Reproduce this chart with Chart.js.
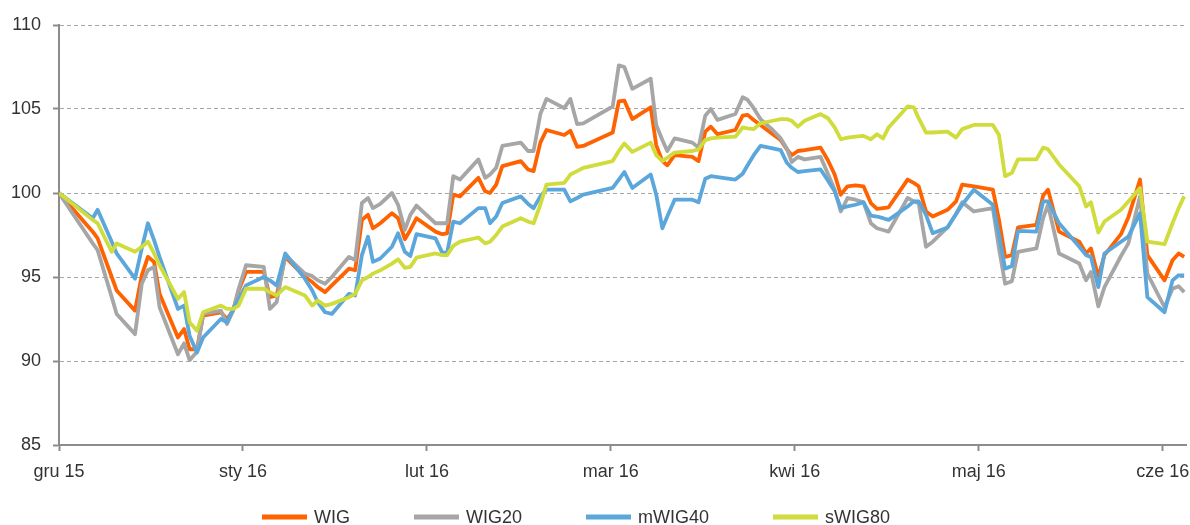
<!DOCTYPE html>
<html lang="pl">
<head>
<meta charset="UTF-8">
<title>WIG, WIG20, mWIG40, sWIG80</title>
<script src="https://cdn.jsdelivr.net/npm/chart.js"></script>
<style>
  html, body { margin: 0; padding: 0; background: #fff; }
  #wrap { width: 1190px; height: 525px; position: relative; }
</style>
</head>
<body>
<div id="wrap"><canvas id="indexChart"></canvas></div>
<script>
// pozycja na osi X (30 jednostek = 1 miesiac)
const xPos = [0, 5.5, 6.3, 8.6, 9.4, 12.4, 13.5, 14.5, 15.5, 16.4, 19.4, 20.4, 21.3, 22.5, 23.5, 26.4, 27.4, 28.4, 29.3, 30.5,
  33.4, 34.4, 35.5, 36.9, 40.1, 41.3, 42.2, 43.4, 44.5, 47.3, 48.3, 49.4, 50.4, 51.2, 52.4, 54.3, 55.3, 56.4, 57.3, 58.3,
  61.4, 62.5, 63.3, 64.3, 65.4, 68.4, 69.5, 70.3, 71.3, 72.3, 75.3, 76.5, 77.4, 78.5, 79.5, 82.4, 83.4, 84.5, 85.5, 90.3,
  91.3, 92.2, 93.5, 96.5, 97.4, 98.4, 99.2, 100.4, 103.3, 104.3, 105.4, 106.3, 107.4, 110.3, 111.5, 112.3, 113.3, 114.4, 116.4, 117.7,
  118.7, 119.5, 120.5, 121.6, 124.2, 125.4, 126.5, 127.5, 128.6, 129.9, 131.2, 132.4, 133.4, 134.4, 135.3, 138.4, 139.4, 140.2, 141.4, 142.5,
  144.9, 146.3, 147.3, 149.2, 152.3, 153.3, 154.3, 155.4, 156.4, 159.4, 160.5, 161.3, 163.1, 166.4, 167.5, 168.3, 169.5, 170.5, 173.2, 174.4,
  176.3, 177.5, 180.3, 181.6, 182.6, 183.5];

const wig = [100, 97.7, 97.3, 95.0, 94.2, 93.0, 95.1, 96.2, 95.9, 94.0, 91.4, 91.9, 90.7, 90.7, 92.7, 92.9, 92.5, 93.0, 94.2, 95.3,
  95.3, 93.8, 93.9, 96.2, 95.0, 94.7, 94.4, 94.1, 94.5, 95.5, 95.4, 98.4, 98.7, 97.9, 98.2, 98.8, 98.5, 97.25, 97.8, 98.5,
  97.7, 97.55, 97.6, 99.9, 99.8, 100.9, 100.1, 100.0, 100.5, 101.6, 101.9, 101.4, 101.3, 103.0, 103.75, 103.45, 103.7, 102.75, 102.8, 103.6,
  105.45, 105.5, 104.4, 105.1, 102.85, 101.9, 101.65, 102.25, 102.15, 101.9, 103.65, 103.95, 103.5, 103.75, 104.6, 104.65, 104.35, 104.05, 103.5, 103.15,
  102.6, 102.25, 102.5, 102.55, 102.7, 101.95, 101.1, 99.9, 100.4, 100.45, 100.4, 99.4, 99.05, 99.1, 99.15, 100.8, 100.6, 100.4, 98.9, 98.6,
  99.0, 99.5, 100.5, 100.4, 100.2, 98.4, 96.2, 96.3, 97.95, 98.1, 99.85, 100.2, 97.7, 97.1, 96.4, 96.7, 95.0, 96.3, 97.55, 98.55,
  100.8, 96.3, 94.8, 96.0, 96.4, 96.2];

const wig20 = [100, 97.0, 96.6, 93.8, 92.8, 91.6, 94.6, 95.4, 95.6, 93.2, 90.4, 91.05, 90.05, 90.55, 92.8, 93.0, 92.2, 93.0, 94.3, 95.7,
  95.6, 93.1, 93.5, 96.3, 95.2, 95.05, 94.8, 94.6, 95.0, 96.2, 96.0, 99.4, 99.7, 99.1, 99.35, 100.0, 99.3, 97.8, 98.7, 99.25,
  98.2, 98.2, 98.2, 101.0, 100.8, 102.0, 100.9, 101.1, 101.5, 102.8, 103.0, 102.5, 102.5, 104.7, 105.6, 105.05, 105.6, 104.1, 104.15, 105.15,
  107.6, 107.5, 106.2, 106.8, 104.05, 103.15, 102.5, 103.25, 103.0, 102.7, 104.6, 105.0, 104.35, 104.7, 105.7, 105.55, 105.05, 104.4, 103.75, 103.25,
  102.65, 101.85, 102.15, 102.0, 102.15, 101.15, 100.2, 98.9, 99.7, 99.6, 99.45, 98.2, 97.9, 97.8, 97.7, 99.7, 99.5, 99.4, 96.8, 97.1,
  97.95, 98.75, 99.45, 98.9, 99.1, 96.7, 94.6, 94.75, 96.5, 96.7, 98.5, 99.3, 96.4, 95.8, 94.8, 95.3, 93.25, 94.4, 96.25, 97.0,
  99.8, 95.2, 93.2, 94.3, 94.45, 94.1];

const mwig40 = [100, 98.5, 99.0, 97.1, 96.4, 94.9, 96.7, 98.2, 97.2, 96.2, 93.1, 93.3, 91.5, 90.5, 91.4, 92.5, 92.3, 93.1, 93.7, 94.5,
  95.0, 94.8, 94.5, 96.4, 94.9, 94.2, 93.5, 92.9, 92.8, 94.0, 93.9, 96.3, 97.4, 95.9, 96.1, 96.8, 97.6, 96.5, 96.25, 97.55,
  97.3, 96.45, 96.45, 98.3, 98.2, 99.1, 99.1, 98.2, 98.6, 99.4, 99.8, 99.35, 99.1, 99.8, 100.2, 100.2, 99.5, 99.7, 99.9, 100.3,
  100.8, 101.25, 100.3, 101.1, 99.9, 97.9, 98.6, 99.6, 99.6, 99.45, 100.85, 101.0, 100.95, 100.8, 101.15, 101.65, 102.25, 102.8, 102.65, 102.55,
  101.8, 101.5, 101.25, 101.3, 101.4, 100.75, 100.1, 99.1, 99.2, 99.3, 99.45, 98.65, 98.6, 98.5, 98.4, 99.2, 99.5, 99.5, 98.7, 97.6,
  97.95, 98.75, 99.3, 100.2, 99.3, 97.5, 95.5, 95.65, 97.75, 97.7, 99.5, 99.5, 98.2, 96.8, 96.3, 96.2, 94.4, 96.4, 97.1, 97.4,
  98.8, 93.8, 92.9, 94.8, 95.1, 95.1];

const swig80 = [100, 98.4, 98.2, 96.5, 97.0, 96.5, 96.8, 97.1, 96.4, 95.7, 93.7, 94.1, 92.3, 91.8, 92.9, 93.3, 93.1, 93.1, 93.3, 94.3,
  94.3, 94.1, 93.9, 94.4, 93.9, 93.3, 93.6, 93.3, 93.4, 93.8, 94.0, 94.8, 95.0, 95.2, 95.4, 95.8, 96.05, 95.55, 95.6, 96.15,
  96.4, 96.3, 96.3, 96.85, 97.1, 97.35, 97.0, 97.1, 97.5, 98.0, 98.5, 98.3, 98.2, 99.3, 100.5, 100.6, 101.1, 101.3, 101.5, 101.9,
  102.5, 102.95, 102.45, 103.0, 102.25, 101.9, 102.1, 102.4, 102.5, 102.6, 103.15, 103.25, 103.3, 103.35, 103.9, 103.85, 103.8, 104.15, 104.3, 104.4,
  104.4, 104.3, 103.95, 104.3, 104.7, 104.45, 103.9, 103.2, 103.3, 103.35, 103.4, 103.2, 103.5, 103.25, 103.9, 105.15, 105.1, 104.45, 103.6, 103.6,
  103.65, 103.3, 103.8, 104.05, 104.05, 103.45, 101.0, 101.2, 102.0, 102.0, 102.7, 102.6, 101.7, 100.4, 99.2, 99.45, 97.65, 98.3, 99.0, 99.5,
  100.3, 97.1, 96.95, 98.2, 99.1, 99.8];

const monthLabels = ["gru 15", "sty 16", "lut 16", "mar 16", "kwi 16", "maj 16", "cze 16"];
const seriesNames = ["WIG", "WIG20", "mWIG40", "sWIG80"];
const seriesColors = ["#FF6200", "#A6A6A6", "#5BA7DC", "#CFDC3C"];

const DAYS_PER_MONTH = 30;
const FONT = "'Liberation Sans', Arial, sans-serif";

Chart.defaults.font.family = FONT;
Chart.defaults.font.size = 18;
Chart.defaults.color = "#333";

const seriesValues = [wig, wig20, mwig40, swig80];
const datasets = seriesValues.map((vals, k) => ({
  label: seriesNames[k],
  data: vals.map((v, i) => ({ x: xPos[i], y: v })),
  borderColor: seriesColors[k],
  backgroundColor: seriesColors[k],
  borderWidth: 3.8,
  pointRadius: 0,
  tension: 0,
  borderJoinStyle: "round",
  order: seriesValues.length - k   // sWIG80 na wierzchu, jak w Excelu
}));

// legenda pod wykresem (rysowana recznie, zeby trzymac odstepy z oryginalu)
const bottomLegend = {
  id: "bottomLegend",
  afterDraw(chart) {
    const ctx = chart.ctx;
    ctx.save();
    ctx.font = "18px " + FONT;
    ctx.textBaseline = "middle";
    ctx.fillStyle = "#333";
    let x = 262;
    const y = 517;
    chart.data.datasets.forEach(ds => {
      ctx.strokeStyle = ds.borderColor;
      ctx.lineWidth = 5;
      ctx.beginPath();
      ctx.moveTo(x, y);
      ctx.lineTo(x + 45, y);
      ctx.stroke();
      ctx.fillText(ds.label, x + 52, y + 1);
      x += 52 + ctx.measureText(ds.label).width + 64;
    });
    ctx.restore();
  }
};

new Chart(document.getElementById("indexChart"), {
  type: "line",
  data: { datasets: datasets },
  options: {
    responsive: true,
    maintainAspectRatio: false,
    animation: false,
    layout: { padding: { top: 25, right: 4, bottom: 38, left: 0 } },
    plugins: {
      legend: { display: false },
      tooltip: { enabled: false }
    },
    scales: {
      x: {
        type: "linear",
        min: 0,
        max: 183.8,
        afterBuildTicks: s => {
          s.ticks = monthLabels.map((_, i) => ({ value: i * DAYS_PER_MONTH }));
        },
        afterFit: s => {
          s.height = 42;
          s.paddingLeft = 0;
          s.paddingRight = 0;
        },
        ticks: {
          autoSkip: false,
          maxRotation: 0,
          padding: 10,
          callback: v => monthLabels[Math.round(v / DAYS_PER_MONTH)]
        },
        grid: {
          drawOnChartArea: false,
          tickLength: 6,
          tickColor: "#8C8C8C",
          tickWidth: 2
        },
        border: { color: "#8C8C8C", width: 2 }
      },
      y: {
        min: 85,
        max: 110,
        afterFit: s => { s.width = 59; },
        ticks: { stepSize: 5, padding: 12 },
        grid: {
          color: c => (c.tick && c.tick.value === 85) ? "rgba(0,0,0,0)" : "#A6A6A6",
          lineWidth: 1,
          tickLength: 6,
          tickColor: "#8C8C8C",
          tickWidth: 2
        },
        border: { color: "#8C8C8C", width: 2, dash: [4, 3] }
      }
    }
  },
  plugins: [bottomLegend]
});
</script>
</body>
</html>
